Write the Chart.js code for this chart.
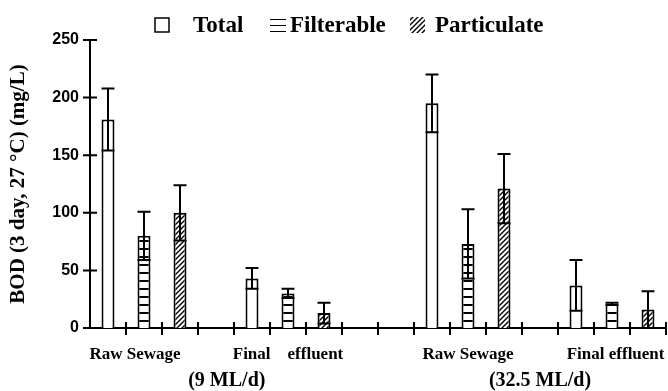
<!DOCTYPE html>
<html>
<head>
<title>BOD by fraction</title>
<style>
  html, body { margin: 0; padding: 0; background: #fff; }
  #wrap { width: 668px; height: 391px; }
</style>
<script src="https://cdn.jsdelivr.net/npm/chart.js"></script>
</head>
<body>
<div id="wrap"><canvas id="bod"></canvas></div>
<script>
// slots along the x axis (blank slots are the gaps between groups)
const slotNames = ['RS T', 'RS F', 'RS P', '', 'FE T', 'FE F', 'FE P', '', '',
                   'RS T', 'RS F', 'RS P', '', 'FE T', 'FE F', 'FE P'];
const groupSlots = [0, 4, 9, 13];   // slot of the first bar in each group

// mean BOD and error (mg/L) for each group
const totalMean = [181, 43, 195, 37];
const totalErr = [27, 9, 25, 22];
const filterableMean = [80, 30, 73, 21];
const filterableErr = [21, 4, 30, 1];
const particulateMean = [100, 13, 121, 16];
const particulateErr = [24, 9, 30, 16];

const yTicks = [0, 50, 100, 150, 200, 250];
const groupLabels = ['Raw Sewage', 'Final    effluent', 'Raw Sewage', 'Final effluent'];
const groupLabelAt = [0.75, 5, 10, 14.1];
const flowLabels = ['(9 ML/d)', '(32.5 ML/d)'];
const flowLabelAt = [3.3, 12];

function spread(vals, offset) {
    const out = slotNames.map(() => null);
    vals.forEach((v, i) => { out[groupSlots[i] + offset] = v; });
    return out;
}

function linePattern() {
    const c = document.createElement('canvas');
    c.width = 8; c.height = 8;
    const g = c.getContext('2d');
    g.fillStyle = '#fff'; g.fillRect(0, 0, 8, 8);
    g.fillStyle = '#000'; g.fillRect(0, 0, 8, 2);
    return g.createPattern(c, 'repeat');
}

function hatchPattern() {
    const c = document.createElement('canvas');
    c.width = 5; c.height = 5;
    const g = c.getContext('2d');
    g.fillStyle = '#fff'; g.fillRect(0, 0, 5, 5);
    g.strokeStyle = '#000'; g.lineWidth = 1.4;
    g.beginPath();
    g.moveTo(0, 5); g.lineTo(5, 0);
    g.moveTo(-1, 1); g.lineTo(1, -1);
    g.moveTo(4, 6); g.lineTo(6, 4);
    g.stroke();
    return g.createPattern(c, 'repeat');
}

const fills = [ '#fff', linePattern(), hatchPattern() ];
const errs = [ spread(totalErr, 0), spread(filterableErr, 1), spread(particulateErr, 2) ];

const serif = '"Liberation Serif", "Times New Roman", serif';
const sans = '"Liberation Sans", Arial, sans-serif';

// error bars, tick marks, category text and legend
const extras = {
    id: 'extras',
    afterDatasetsDraw(chart) {
        const ctx = chart.ctx;
        const y = chart.scales.y;
        ctx.save();
        ctx.strokeStyle = '#000';
        ctx.lineWidth = 2;
        chart.data.datasets.forEach((ds, di) => {
            const meta = chart.getDatasetMeta(di);
            meta.data.forEach((bar, i) => {
                const v = ds.data[i];
                if (v === null) return;
                const e = errs[di][i];
                const half = bar.width / 2;
                const top = y.getPixelForValue(v + e);
                const bot = y.getPixelForValue(Math.max(0, v - e));
                ctx.beginPath();
                ctx.moveTo(bar.x, top); ctx.lineTo(bar.x, bot);
                ctx.moveTo(bar.x - half, top); ctx.lineTo(bar.x + half, top);
                ctx.moveTo(bar.x - half, bot); ctx.lineTo(bar.x + half, bot);
                ctx.stroke();
            });
        });
        ctx.restore();
    },
    afterDraw(chart) {
        const ctx = chart.ctx;
        const x = chart.scales.x, y = chart.scales.y;
        const area = chart.chartArea;
        ctx.save();
        ctx.strokeStyle = '#000';
        ctx.lineWidth = 2;
        ctx.beginPath();
        // y ticks cross the axis
        yTicks.forEach(t => {
            const py = y.getPixelForValue(t);
            ctx.moveTo(area.left - 7, py); ctx.lineTo(area.left + 7, py);
        });
        // x ticks at slot boundaries
        for (let i = 1; i <= slotNames.length; i++) {
            const px = x.getPixelForValue(i - 0.5);
            ctx.moveTo(px, area.bottom - 6); ctx.lineTo(px, area.bottom + 7);
        }
        ctx.stroke();

        ctx.fillStyle = '#000';
        ctx.textAlign = 'center';
        ctx.textBaseline = 'middle';
        ctx.font = 'bold 17px ' + serif;
        groupLabels.forEach((t, i) => ctx.fillText(t, x.getPixelForValue(groupLabelAt[i]), area.bottom + 27));
        ctx.font = 'bold 20px ' + serif;
        flowLabels.forEach((t, i) => ctx.fillText(t, x.getPixelForValue(flowLabelAt[i]), area.bottom + 53));

        // legend
        const ly = 25;
        ctx.textAlign = 'left';
        ctx.font = 'bold 23px ' + serif;
        ctx.lineWidth = 1.5;
        ctx.strokeRect(155, ly - 7, 14, 14);
        ctx.fillText('Total', 193, ly + 1);
        ctx.lineWidth = 1;
        ctx.beginPath();
        [-6, 0, 6].forEach(d => { ctx.moveTo(270, ly + d + 0.5); ctx.lineTo(286, ly + d + 0.5); });
        ctx.stroke();
        ctx.fillText('Filterable', 290, ly + 1);
        ctx.fillStyle = fills[2];
        ctx.fillRect(410, ly - 8, 15, 16);
        ctx.fillStyle = '#000';
        ctx.fillText('Particulate', 435, ly + 1);
        ctx.restore();
    }
};

const names = ['Total', 'Filterable', 'Particulate'];
const means = [ spread(totalMean, 0), spread(filterableMean, 1), spread(particulateMean, 2) ];

new Chart(document.getElementById('bod'), {
    type: 'bar',
    data: {
        labels: slotNames,
        datasets: names.map((n, i) => ({
            label: n,
            data: means[i],
            backgroundColor: fills[i],
            borderColor: '#000',
            borderWidth: 2,
            grouped: false,
            barPercentage: 0.36,
            categoryPercentage: 1
        }))
    },
    options: {
        responsive: true,
        maintainAspectRatio: false,
        animation: false,
        layout: { padding: { top: 40, right: 2, left: 0, bottom: 0 } },
        plugins: { legend: { display: false }, tooltip: { enabled: false } },
        scales: {
            x: {
                afterFit: s => { s.height = 63; },
                grid: { display: false, drawTicks: false },
                border: { display: true, color: '#000', width: 2 },
                ticks: { display: false }
            },
            y: {
                min: 0, max: 250,
                afterFit: s => { s.width = 90; },
                afterBuildTicks: s => { s.ticks = yTicks.map(v => ({ value: v })); },
                grid: { display: false, drawTicks: false, tickLength: 0 },
                border: { display: true, color: '#000', width: 2 },
                ticks: { padding: 11, color: '#000', font: { family: sans, size: 16, weight: 'bold' } },
                title: {
                    display: true,
                    text: 'BOD (3 day, 27 °C) (mg/L)',
                    color: '#000',
                    font: { family: serif, size: 21, weight: 'bold' },
                    padding: { top: 6, bottom: 0 }
                }
            }
        }
    },
    plugins: [extras]
});
</script>
</body>
</html>
